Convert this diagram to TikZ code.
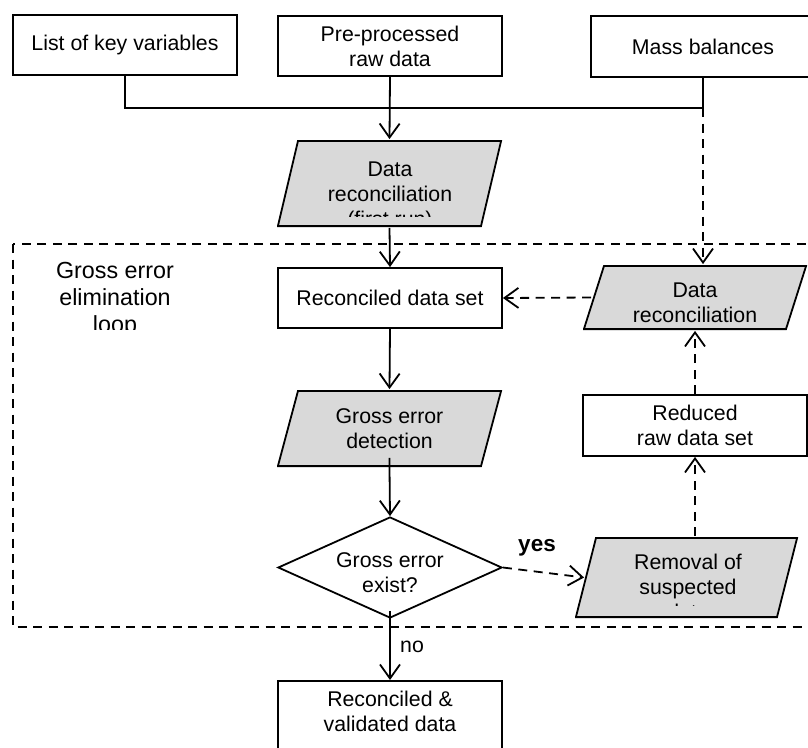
\documentclass[tikz,border=0pt]{standalone}
\usepackage{fontspec}
\setmainfont{Liberation Sans}
\usetikzlibrary{shapes.geometric,arrows.meta}
\definecolor{procgray}{RGB}{217,217,217}
\begin{document}
\begin{tikzpicture}[x=1pt,y=-1pt,
  font=\fontsize{21.3}{25}\selectfont,
  line width=1.8pt,
  box/.style={draw,rectangle,align=center,minimum width=224pt,minimum height=60pt,inner sep=0pt},
  proc/.style={rectangle,align=center,minimum width=225pt,inner sep=0pt,
    path picture={\draw[fill=procgray]
      ([xshift=21pt,yshift=-0.9pt]path picture bounding box.north west)
      -- ([xshift=-0.9pt,yshift=-0.9pt]path picture bounding box.north east)
      -- ([xshift=-21pt,yshift=0.9pt]path picture bounding box.south east)
      -- ([xshift=0.9pt,yshift=0.9pt]path picture bounding box.south west) -- cycle;}},
  decide/.style={draw,diamond,aspect=2.2,minimum width=224pt,minimum height=101pt,align=center,inner sep=0pt},
  flow/.style={-{Straight Barb[length=14pt,width=20pt]}},
  loopline/.style={dash pattern=on 9pt off 6.5pt}]
\useasboundingbox (0,0) rectangle (808,747);
\clip (0,0) rectangle (808,747);

% inputs
\draw (125,45) node[box] (list) {List of key variables};
\draw (390,46) node[box] (pre) {Pre-processed\\raw data};
\draw (703,46.5) node[box,minimum height=61pt] (mass) {Mass balances};
\coordinate (join) at (703,108);

% first reconciliation
\draw (389.5,183.5) node[proc,minimum height=87pt] (dr1) {};
\begin{scope}
\clip (260,140) rectangle (520,216);
\draw (390,196) node[align=center] (dr1text) {Data\\reconciliation\\(first run)};
\end{scope}

% gross error elimination loop
\draw[loopline] (13,244) rectangle (840,627);
\begin{scope}
\clip (15,250) rectangle (260,329);
\draw (115,300) node[align=center,font=\fontsize{23.3}{27}\selectfont] (loop) {Gross error\\elimination\\loop};
\end{scope}
\draw (390,298) node[box] (rds) {Reconciled data set};
\draw (389.5,428.5) node[proc,minimum height=77pt] (ged) {Gross error\\detection};
\draw (390,567.5) node[decide] (exist) {\rule{0pt}{26pt}Gross error\\exist?};
\draw (686.5,577.5) node[proc,minimum height=81pt,minimum width=223pt] (removal) {};
\begin{scope}
\clip (570,540) rectangle (805,605);
\draw (688,587) node[align=center] (removaltext) {Removal of\\suspected\\data};
\end{scope}
\draw (695,425.5) node[box,minimum height=61pt] (reduced) {Reduced\\raw data set};
\draw (695,297.5) node[proc,minimum height=65pt,minimum width=224pt] (dr2) {\rule{0pt}{25pt}Data\\reconciliation};

% output
\draw (390,680) node[box,anchor=north,minimum height=0pt,inner ysep=10pt] (final)
  {Reconciled \&\\validated data\rule[-40pt]{0pt}{0pt}};

% connectors
\draw (list.south) |- (join) -- (mass.south);
\draw[flow] (pre.south) -- (dr1.north);
\draw[flow] (dr1.south) -- (rds.north);
\draw[flow] (rds.south) -- (ged.north);
\draw[flow,shorten <=-10pt] (ged.south) -- (exist.north);
\draw[flow,shorten <=-8pt] (exist.south) -- node[right,pos=0.45,xshift=6pt] (no) {no} (final.north);
\draw[flow,loopline] (exist.east) -- node[above,pos=0.42,yshift=11pt,font=\fontsize{22.5}{25}\selectfont\bfseries] (yes) {yes} ([xshift=10pt]removal.west);
\draw[flow,loopline] (removal.north -| reduced.south) -- (reduced.south);
\draw[flow,loopline] (reduced.north) -- (dr2.south);
\draw[flow,loopline] (join) -- (dr2.north -| join);
\draw[flow,loopline] ([xshift=9pt]dr2.west) -- (rds.east);
\end{tikzpicture}
\end{document}
